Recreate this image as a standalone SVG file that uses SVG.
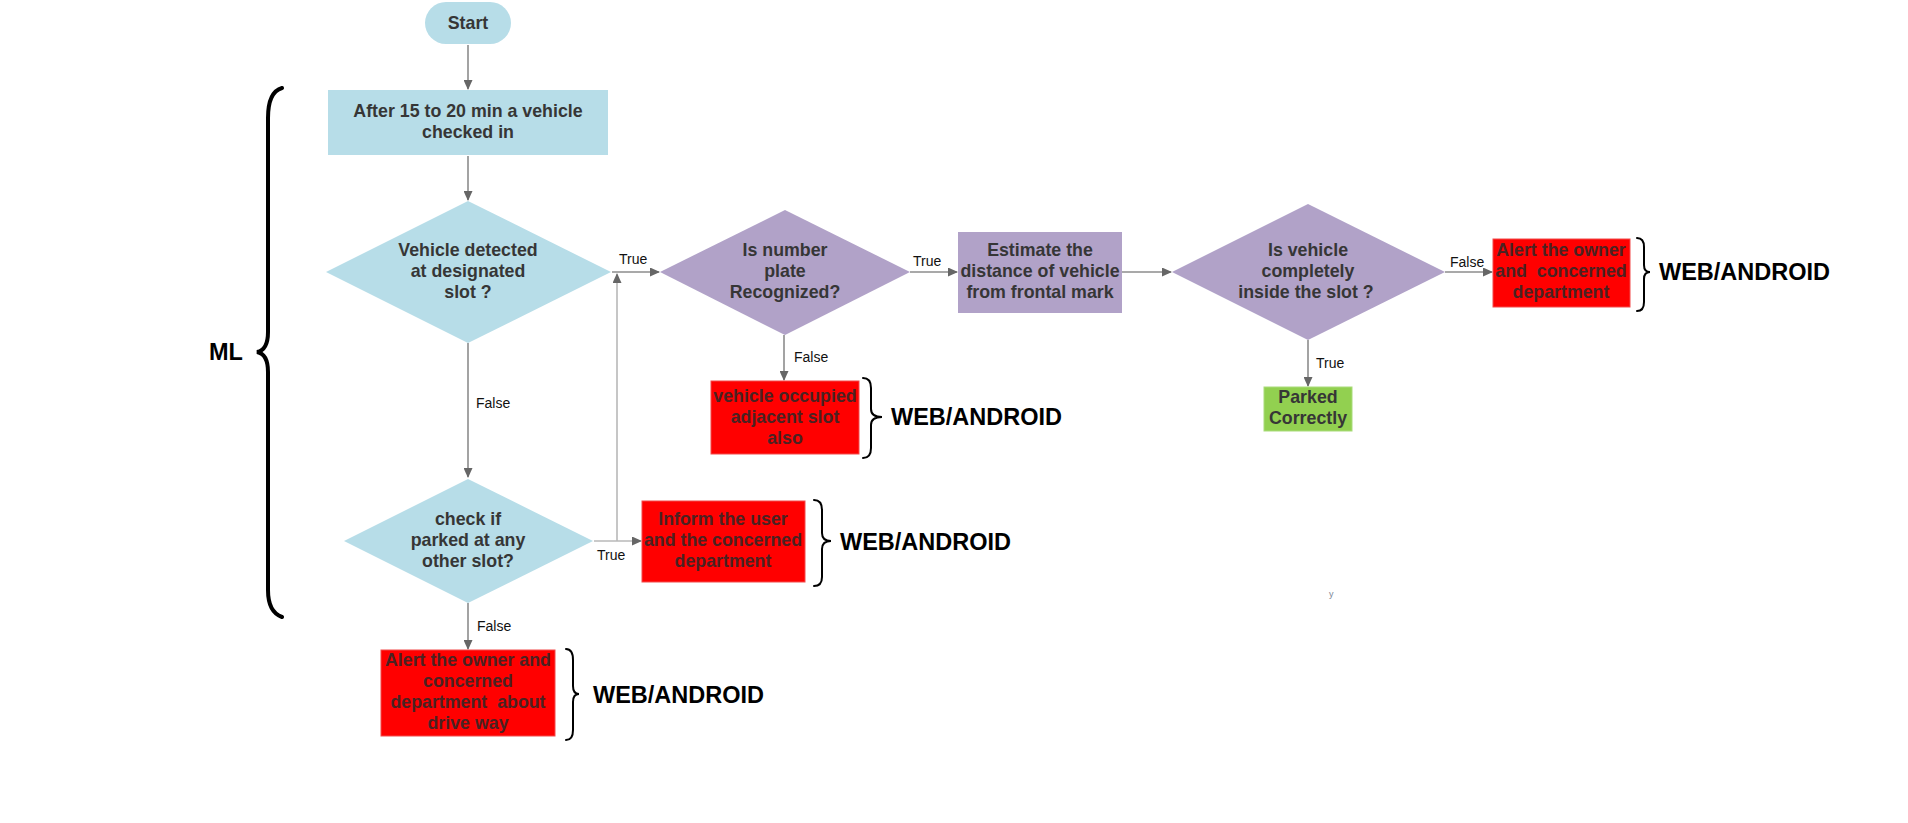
<svg xmlns="http://www.w3.org/2000/svg" width="1908" height="823" viewBox="0 0 1908 823">
<style>
.bg{fill:#ffffff}
.blue{fill:#b7dde8}
.purple{fill:#b1a2c8}
.red{fill:#ff0000;stroke:#f24a4a;stroke-width:1}
.green{fill:#92d050;stroke:#a9dc7a;stroke-width:1}
.t{font-family:"Liberation Sans",Arial,sans-serif;font-size:17.8px;font-weight:bold;fill:#363636;text-anchor:middle;white-space:pre}
.tr{font-family:"Liberation Sans",Arial,sans-serif;font-size:17.8px;font-weight:bold;fill:#4a2222;text-anchor:middle;white-space:pre}
.lbl{font-family:"Liberation Sans",Arial,sans-serif;font-size:14px;fill:#111111}
.big{font-family:"Liberation Sans",Arial,sans-serif;font-size:23.5px;font-weight:bold;fill:#000000}
.conn{stroke:#8c8c8c;stroke-width:1.6;fill:none;marker-end:url(#arr)}
.conn2{stroke:#b8b8b8;stroke-width:1.6;fill:none;marker-end:url(#arr)}
.brace{stroke:#000000;stroke-width:2;fill:none;stroke-linecap:round}
</style>
<defs>
<marker id="arr" markerUnits="userSpaceOnUse" markerWidth="10" markerHeight="9" refX="9" refY="4.5" orient="auto">
<path d="M0,0 L10,4.5 L0,9 Z" fill="#666666"/>
</marker>
</defs>
<rect class="bg" x="0" y="0" width="1908" height="823"/>

<g id="connectors">
<line class="conn" x1="468" y1="45" x2="468" y2="89"/>
<line class="conn" x1="468" y1="156" x2="468" y2="200"/>
<line class="conn" x1="612" y1="272" x2="659" y2="272"/>
<line class="conn" x1="468" y1="343" x2="468" y2="477"/>
<line class="conn2" x1="594" y1="541" x2="641" y2="541"/>
<line class="conn2" x1="617" y1="541" x2="617" y2="274"/>
<line class="conn" x1="910" y1="272" x2="957" y2="272"/>
<line class="conn" x1="784" y1="335" x2="784" y2="380"/>
<line class="conn" x1="1122" y1="272" x2="1171" y2="272"/>
<line class="conn" x1="1445" y1="272" x2="1492" y2="272"/>
<line class="conn" x1="1308" y1="340" x2="1308" y2="386"/>
<line class="conn" x1="468" y1="603" x2="468" y2="649"/>
<text class="lbl" x="619" y="264">True</text>
<text class="lbl" x="913" y="266">True</text>
<text class="lbl" x="794" y="362">False</text>
<text class="lbl" x="476" y="408">False</text>
<text class="lbl" x="597" y="560">True</text>
<text class="lbl" x="477" y="631">False</text>
<text class="lbl" x="1450" y="267">False</text>
<text class="lbl" x="1316" y="368">True</text>
</g>

<g id="start">
<rect class="blue" x="425" y="2" width="86" height="42" rx="21" ry="21"/>
<text class="t" x="468" y="29">Start</text>
</g>

<g id="checked-in">
<rect class="blue" x="328" y="90" width="280" height="65"/>
<text class="t" x="468" y="117">After 15 to 20 min a vehicle</text>
<text class="t" x="468" y="138">checked in</text>
</g>

<g id="detected">
<polygon class="blue" points="468,201 611,272 468,343 326,272"/>
<text class="t" x="468" y="256">Vehicle detected</text>
<text class="t" x="468" y="277">at designated</text>
<text class="t" x="468" y="298">slot ?</text>
</g>

<g id="plate">
<polygon class="purple" points="785,210 910,272 785,335 660,272"/>
<text class="t" x="785" y="256">Is number</text>
<text class="t" x="785" y="277">plate</text>
<text class="t" x="785" y="298">Recognized?</text>
</g>

<g id="estimate">
<rect class="purple" x="958" y="232" width="164" height="81"/>
<text class="t" x="1040" y="256">Estimate the</text>
<text class="t" x="1040" y="277">distance of vehicle</text>
<text class="t" x="1040" y="298">from frontal mark</text>
</g>

<g id="inside">
<polygon class="purple" points="1308,204 1445,272 1308,340 1172,272"/>
<text class="t" x="1308" y="256">Is vehicle</text>
<text class="t" x="1308" y="277">completely</text>
<text class="t" x="1306" y="298">inside the slot ?</text>
</g>

<g id="alert-owner">
<rect class="red" x="1493" y="239" width="137" height="68"/>
<text class="tr" x="1561" y="256">Alert the owner</text>
<text class="tr" x="1561" y="277">and  concerned</text>
<text class="tr" x="1561" y="298">department</text>
</g>

<g id="parked-correctly">
<rect class="green" x="1264" y="387" width="88" height="44"/>
<text class="t" x="1308" y="403">Parked</text>
<text class="t" x="1308" y="424">Correctly</text>
</g>

<g id="adjacent">
<rect class="red" x="711" y="381" width="148" height="73"/>
<text class="tr" x="785" y="402">vehicle occupied</text>
<text class="tr" x="785" y="423">adjacent slot</text>
<text class="tr" x="785" y="444">also</text>
</g>

<g id="other-slot">
<polygon class="blue" points="468,479 593,541 468,603 344,541"/>
<text class="t" x="468" y="525">check if</text>
<text class="t" x="468" y="546">parked at any</text>
<text class="t" x="468" y="567">other slot?</text>
</g>

<g id="inform">
<rect class="red" x="642" y="501" width="163" height="81"/>
<text class="tr" x="723" y="525">Inform the user</text>
<text class="tr" x="723" y="546">and the concerned</text>
<text class="tr" x="723" y="567">department</text>
</g>

<g id="drive-way">
<rect class="red" x="381" y="650" width="174" height="86"/>
<text class="tr" x="468" y="666">Alert the owner and</text>
<text class="tr" x="468" y="687">concerned</text>
<text class="tr" x="468" y="708">department  about</text>
<text class="tr" x="468" y="729">drive way</text>
</g>

<g id="ml-brace">
<path d="M282,88 Q268,92 268,118 L268,332 Q268,350 257,352 Q268,354 268,372 L268,590 Q268,612 282,617" stroke="#000" stroke-width="4" fill="none" stroke-linecap="round"/>
<text class="big" x="209" y="360" font-size="24">ML</text>
</g>

<g id="platform-adjacent">
<path class="brace" d="M863,378 Q871,378 871,388 L871,409 Q871,417 882,417 Q871,417 871,425 L871,448 Q871,458 863,458"/>
<text class="big" x="891" y="425">WEB/ANDROID</text>
</g>

<g id="platform-alert">
<path class="brace" d="M1637,238 Q1644,238 1644,247 L1644,265 Q1644,272 1650,272 Q1644,272 1644,279 L1644,302 Q1644,311 1637,311"/>
<text class="big" x="1659" y="280">WEB/ANDROID</text>
</g>

<g id="platform-inform">
<path class="brace" d="M814,500 Q822,500 822,510 L822,533 Q822,541 831,541 Q822,541 822,549 L822,577 Q822,586 814,586"/>
<text class="big" x="840" y="550">WEB/ANDROID</text>
</g>

<g id="platform-driveway">
<path class="brace" d="M566,649 Q573,649 573,660 L573,686 Q573,694 579,694 Q573,694 573,702 L573,730 Q573,740 566,740"/>
<text class="big" x="593" y="703">WEB/ANDROID</text>
</g>

<text x="1329" y="597" font-family="Liberation Sans, Arial, sans-serif" font-size="9" fill="#7d8796">y</text>
</svg>
